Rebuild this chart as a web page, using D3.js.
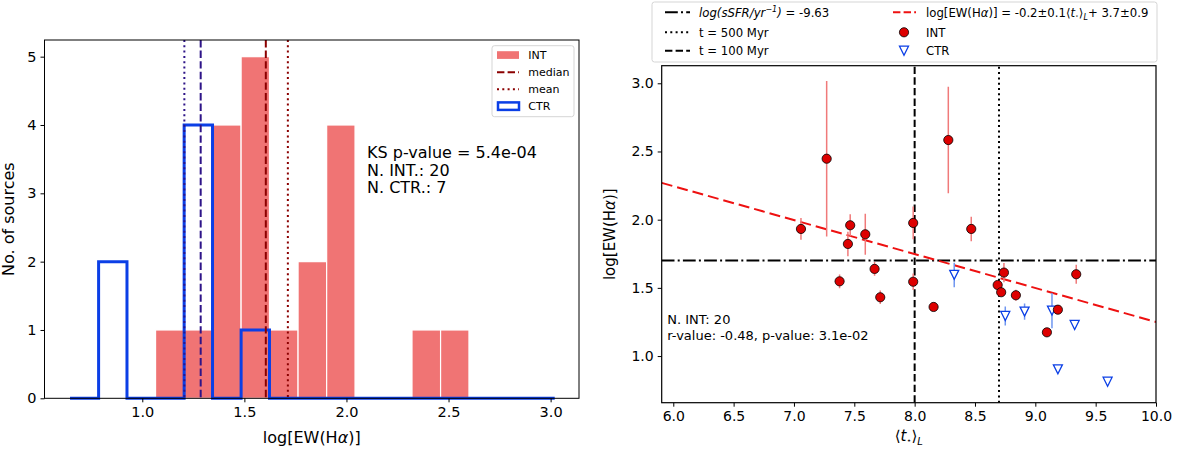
<!DOCTYPE html>
<html><head><meta charset="utf-8">
<script src="https://cdn.jsdelivr.net/npm/d3@7"></script>
<style>body{margin:0;background:#fff}svg{display:block;font-family:"DejaVu Sans",sans-serif}</style>
</head><body>
<svg id="c" width="1200" height="451"></svg>
<script>
// ---------- DATA ----------
// Left panel: histogram of log[EW(Halpha)]
const binEdges = [0.646,0.786,0.925,1.065,1.205,1.344,1.484,1.623,1.763,1.903,2.042,2.182,2.321,2.461,2.600,2.740,2.880,3.020];
const intCounts = [0,0,0,1,1,4,5,1,2,4,0,0,1,1,0,0,0];
const ctrCounts = [0,2,0,0,4,0,1,0,0,0,0,0,0,0,0,0,0];
const intMedian = 1.605, intMean = 1.713, ctrMedian = 1.286, ctrMean = 1.206;
const histXTicks = [1.0,1.5,2.0,2.5,3.0];
const histYTicks = [0,1,2,3,4,5];

// Right panel: scatter
const intAge = [7.058,7.271,7.378,7.447,7.466,7.591,7.668,7.715,7.988,7.988,8.157,8.279,8.469,8.688,8.717,8.740,8.839,9.096,9.187,9.339];
const intEW  = [1.932,2.447,1.548,1.822,1.959,1.893,1.639,1.431,1.976,1.545,1.360,2.584,1.932,1.521,1.468,1.612,1.446,1.174,1.340,1.600];
const intErr = [0.08,0.57,0.05,0.09,0.08,0.15,0.05,0.05,0.12,0.06,0.03,0.39,0.09,0.03,0.03,0.07,0.04,0.03,0.03,0.07];
const ctrAge = [8.328,8.751,8.911,9.138,9.326,9.187,9.599];
const ctrEW  = [1.595,1.294,1.326,1.333,1.228,0.903,0.812];
const ctrErr = [0.09,0.07,0.06,0.13,0.02,0.02,0.02];
const fitSlope = -0.249, fitIntercept = 3.74;
const sSFRLevel = 1.70;
const age100 = 8.0, age500 = 8.699;
const scatXTicks = [6.0,6.5,7.0,7.5,8.0,8.5,9.0,9.5,10.0];
const scatYTicks = [1.0,1.5,2.0,2.5,3.0];

// ---------- DRAW ----------
const svg = d3.select("#c");
const FONT = "DejaVu Sans";
const RED_FILL = "#f07474", BLUE = "#0b3fe6", DARKRED = "#8b0000", INDIGO = "#2e1488";

// Left panel scales
const xL = d3.scaleLinear().domain([0.521, 3.139]).range([44.5, 579]);
const yL = d3.scaleLinear().domain([0, 5.244]).range([398.3, 40]);
const gL = svg.append("g");

// red bars
const bins = intCounts.map((c,i)=>({x0:binEdges[i], x1:binEdges[i+1], c}));
gL.selectAll("rect.int").data(bins.filter(d=>d.c>0)).join("rect")
  .attr("x", d=>xL(d.x0)).attr("width", d=>xL(d.x1)-xL(d.x0))
  .attr("y", d=>yL(d.c)).attr("height", d=>yL(0)-yL(d.c))
  .attr("fill", RED_FILL).attr("stroke","#fff").attr("stroke-width",1.2);

// CTR step outline
const stepPts = [[binEdges[0],0]];
ctrCounts.forEach((c,i)=>{ stepPts.push([binEdges[i],c]); stepPts.push([binEdges[i+1],c]); });
stepPts.push([binEdges[binEdges.length-1],0]);
gL.append("path").attr("d", d3.line().x(d=>xL(d[0])).y(d=>yL(d[1]))(stepPts))
  .attr("fill","none").attr("stroke",BLUE).attr("stroke-width",3).attr("stroke-linejoin","miter");

// vertical lines
const vl = [
  {x:ctrMean, c:INDIGO, dash:"2,3.3"},
  {x:ctrMedian, c:INDIGO, dash:"7.4,3.2"},
  {x:intMedian, c:DARKRED, dash:"7.4,3.2"},
  {x:intMean, c:DARKRED, dash:"2,3.3"}
];
gL.selectAll("line.v").data(vl).join("line")
  .attr("x1",d=>xL(d.x)).attr("x2",d=>xL(d.x)).attr("y1",yL.range()[1]).attr("y2",yL.range()[0])
  .attr("stroke",d=>d.c).attr("stroke-width",2).attr("stroke-dasharray",d=>d.dash);

// axes left
const axLB = gL.append("g").attr("transform",`translate(0,${yL(0)})`)
  .call(d3.axisBottom(xL).tickValues(histXTicks).tickFormat(d3.format(".1f")).tickSizeOuter(0).tickSize(4).tickPadding(4));
const axLL = gL.append("g").attr("transform",`translate(${xL.range()[0]},0)`)
  .call(d3.axisLeft(yL).tickValues(histYTicks).tickFormat(d3.format("d")).tickSizeOuter(0).tickSize(4).tickPadding(4));
[axLB,axLL].forEach(a=>{a.select(".domain").remove(); a.selectAll("text").attr("font-family",FONT).attr("font-size",14.5).attr("fill","#000"); a.selectAll("line").attr("stroke","#000");});
gL.append("rect").attr("x",xL.range()[0]).attr("y",yL.range()[1]).attr("width",xL.range()[1]-xL.range()[0]).attr("height",yL.range()[0]-yL.range()[1])
  .attr("fill","none").attr("stroke","#000").attr("stroke-width",1);

// left labels
gL.append("text").attr("x",(xL.range()[0]+xL.range()[1])/2).attr("y",443).attr("text-anchor","middle")
  .attr("font-size",16).attr("font-family",FONT)
  .call(t=>{t.append("tspan").text("log[EW(H"); t.append("tspan").attr("font-style","italic").text("α"); t.append("tspan").text(")]");});
gL.append("text").attr("transform",`translate(14,${(yL.range()[0]+yL.range()[1])/2}) rotate(-90)`).attr("text-anchor","middle")
  .attr("font-size",16).attr("font-family",FONT).text("No. of sources");

// KS annotation
const ksLines = ["KS p-value = 5.4e-04","N. INT.: 20","N. CTR.: 7"];
gL.selectAll("text.ks").data(ksLines).join("text").attr("x",367).attr("y",(d,i)=>158.3+i*17.2)
  .attr("font-size",16).attr("font-family",FONT).text(d=>d);

// left legend
const lg = gL.append("g");
lg.append("rect").attr("x",492).attr("y",45.7).attr("width",82).attr("height",71).attr("rx",2.5)
  .attr("fill","#fff").attr("fill-opacity",0.8).attr("stroke","#d5d5d5");
const lrows = [55,72.3,89.3,106];
lg.append("rect").attr("x",497).attr("y",lrows[0]-3.8).attr("width",22).attr("height",7.7).attr("fill",RED_FILL);
lg.append("line").attr("x1",497).attr("x2",519).attr("y1",lrows[1]).attr("y2",lrows[1]).attr("stroke",DARKRED).attr("stroke-width",2).attr("stroke-dasharray","7.4,3.2");
lg.append("line").attr("x1",497).attr("x2",519).attr("y1",lrows[2]).attr("y2",lrows[2]).attr("stroke",DARKRED).attr("stroke-width",2).attr("stroke-dasharray","2,3.3");
lg.append("rect").attr("x",498).attr("y",lrows[3]-3.6).attr("width",21).attr("height",7.5).attr("fill","none").attr("stroke",BLUE).attr("stroke-width",2.5);
["INT","median","mean","CTR"].forEach((s,i)=>lg.append("text").attr("x",528.3).attr("y",lrows[i]+4).attr("font-size",11).attr("font-family",FONT).text(s));

// ---------- Right panel ----------
const xR = d3.scaleLinear().domain([5.904, 10.0]).range([661.7, 1156]);
const yR = d3.scaleLinear().domain([0.658, 3.129]).range([402.7, 65.7]);
const gR = svg.append("g");
const clipId = "clipR";
svg.append("clipPath").attr("id",clipId).append("rect").attr("x",xR.range()[0]).attr("y",yR.range()[1]).attr("width",xR.range()[1]-xR.range()[0]).attr("height",yR.range()[0]-yR.range()[1]);
const plot = gR.append("g").attr("clip-path",`url(#${clipId})`);

// reference lines
plot.append("line").attr("x1",xR.range()[0]).attr("x2",xR.range()[1]).attr("y1",yR(sSFRLevel)).attr("y2",yR(sSFRLevel))
  .attr("stroke","#000").attr("stroke-width",2).attr("stroke-dasharray","12.8,3.2,2,3.2");
plot.append("line").attr("x1",xR(age100)).attr("x2",xR(age100)).attr("y1",yR.range()[0]).attr("y2",yR.range()[1])
  .attr("stroke","#000").attr("stroke-width",2).attr("stroke-dasharray","7.4,3.2");
plot.append("line").attr("x1",xR(age500)).attr("x2",xR(age500)).attr("y1",yR.range()[0]).attr("y2",yR.range()[1])
  .attr("stroke","#000").attr("stroke-width",2).attr("stroke-dasharray","2,3.3");
// fit line
const fx = xR.domain();
plot.append("line").attr("x1",xR(fx[0])).attr("x2",xR(fx[1])).attr("y1",yR(fitSlope*fx[0]+fitIntercept)).attr("y2",yR(fitSlope*fx[1]+fitIntercept))
  .attr("stroke","#ee1111").attr("stroke-width",2).attr("stroke-dasharray","11,5");

const intPts = intAge.map((a,i)=>({x:a,y:intEW[i],e:intErr[i]}));
const ctrPts = ctrAge.map((a,i)=>({x:a,y:ctrEW[i],e:ctrErr[i]}));
// error bars
plot.selectAll("line.ie").data(intPts).join("line").attr("x1",d=>xR(d.x)).attr("x2",d=>xR(d.x))
  .attr("y1",d=>yR(d.y-d.e)).attr("y2",d=>yR(d.y+d.e)).attr("stroke","#f07a7a").attr("stroke-width",1.5);
plot.selectAll("line.ce").data(ctrPts).join("line").attr("x1",d=>xR(d.x)).attr("x2",d=>xR(d.x))
  .attr("y1",d=>yR(d.y-d.e)).attr("y2",d=>yR(d.y+d.e)).attr("stroke","#7097f0").attr("stroke-width",1.5);
// markers
const tri = "M-4.5,-4.5L4.5,-4.5L0,4.5Z";
plot.selectAll("path.ct").data(ctrPts).join("path").attr("d",tri).attr("transform",d=>`translate(${xR(d.x)},${yR(d.y)})`)
  .attr("fill","#fff").attr("stroke",BLUE).attr("stroke-width",1.3);
plot.selectAll("circle.it").data(intPts).join("circle").attr("cx",d=>xR(d.x)).attr("cy",d=>yR(d.y)).attr("r",4.6)
  .attr("fill","#dd0000").attr("stroke","#000").attr("stroke-width",0.8);

// axes right
const axRB = gR.append("g").attr("transform",`translate(0,${yR.range()[0]})`)
  .call(d3.axisBottom(xR).tickValues(scatXTicks).tickFormat(d3.format(".1f")).tickSizeOuter(0).tickSize(4).tickPadding(4));
const axRL = gR.append("g").attr("transform",`translate(${xR.range()[0]},0)`)
  .call(d3.axisLeft(yR).tickValues(scatYTicks).tickFormat(d3.format(".1f")).tickSizeOuter(0).tickSize(4).tickPadding(4));
[axRB,axRL].forEach(a=>{a.select(".domain").remove(); a.selectAll("text").attr("font-family",FONT).attr("font-size",14).attr("fill","#000"); a.selectAll("line").attr("stroke","#000");});
gR.append("rect").attr("x",xR.range()[0]).attr("y",yR.range()[1]).attr("width",xR.range()[1]-xR.range()[0]).attr("height",yR.range()[0]-yR.range()[1])
  .attr("fill","none").attr("stroke","#000").attr("stroke-width",1.2);

// right labels
gR.append("text").attr("x",(xR.range()[0]+xR.range()[1])/2).attr("y",441).attr("text-anchor","middle")
  .attr("font-size",15).attr("font-family",FONT)
  .call(t=>{t.append("tspan").text("⟨"); t.append("tspan").attr("font-style","italic").text("t");
    t.append("tspan").attr("font-size",8).attr("dy",2).text("⋆"); t.append("tspan").attr("dy",-2).text("⟩");
    t.append("tspan").attr("font-style","italic").attr("font-size",10).attr("dy",4).text("L");});
gR.append("text").attr("transform",`translate(615,${(yR.range()[0]+yR.range()[1])/2}) rotate(-90)`).attr("text-anchor","middle")
  .attr("font-size",15).attr("font-family",FONT)
  .call(t=>{t.append("tspan").text("log[EW(H"); t.append("tspan").attr("font-style","italic").text("α"); t.append("tspan").text(")]");});

// annotation
["N. INT: 20","r-value: -0.48, p-value: 3.1e-02"].forEach((s,i)=>gR.append("text").attr("x",667.3).attr("y",324.3+i*16)
  .attr("font-size",13).attr("font-family",FONT).text(s));

// right legend
const rg = gR.append("g");
rg.append("rect").attr("x",652).attr("y",2).attr("width",505).attr("height",60).attr("rx",2.5)
  .attr("fill","#fff").attr("fill-opacity",0.8).attr("stroke","#d5d5d5");
const rr = [12.3,32.3,50.7];
const fs = 11.7;
rg.append("line").attr("x1",665).attr("x2",690).attr("y1",rr[0]).attr("y2",rr[0]).attr("stroke","#000").attr("stroke-width",2).attr("stroke-dasharray","12.8,3.2,2,3.2");
rg.append("line").attr("x1",665).attr("x2",690).attr("y1",rr[1]).attr("y2",rr[1]).attr("stroke","#000").attr("stroke-width",2).attr("stroke-dasharray","2,3.3");
rg.append("line").attr("x1",665).attr("x2",690).attr("y1",rr[2]).attr("y2",rr[2]).attr("stroke","#000").attr("stroke-width",2).attr("stroke-dasharray","7.4,3.2");
rg.append("text").attr("x",699).attr("y",rr[0]+4.2).attr("font-size",fs).attr("font-family",FONT)
  .call(t=>{t.append("tspan").attr("font-style","italic").text("log(sSFR/yr");
    t.append("tspan").attr("font-style","italic").attr("font-size",8).attr("dy",-5).text("−1");
    t.append("tspan").attr("font-style","italic").attr("dy",5).text(")");
    t.append("tspan").text(" = -9.63");});
rg.append("text").attr("x",699).attr("y",rr[1]+4.2).attr("font-size",fs).attr("font-family",FONT).text("t = 500 Myr");
rg.append("text").attr("x",699).attr("y",rr[2]+4.2).attr("font-size",fs).attr("font-family",FONT).text("t = 100 Myr");
rg.append("line").attr("x1",893).attr("x2",916).attr("y1",rr[0]).attr("y2",rr[0]).attr("stroke","#ee1111").attr("stroke-width",2).attr("stroke-dasharray","7.4,3.2");
rg.append("circle").attr("cx",904).attr("cy",rr[1]).attr("r",4.6).attr("fill","#dd0000").attr("stroke","#000").attr("stroke-width",0.8);
rg.append("path").attr("d",tri).attr("transform",`translate(904,${rr[2]})`).attr("fill","#fff").attr("stroke",BLUE).attr("stroke-width",1.3);
rg.append("text").attr("x",926).attr("y",rr[0]+4.2).attr("font-size",fs).attr("font-family",FONT)
  .call(t=>{t.append("tspan").text("log[EW(H"); t.append("tspan").attr("font-style","italic").text("α");
    t.append("tspan").text(")] = -0.2±0.1⟨"); t.append("tspan").attr("font-style","italic").text("t");
    t.append("tspan").attr("font-size",6).attr("dy",1.5).text("⋆"); t.append("tspan").attr("dy",-1.5).text("⟩");
    t.append("tspan").attr("font-style","italic").attr("font-size",8).attr("dy",3).text("L");
    t.append("tspan").attr("dy",-3).text("+ 3.7±0.9");});
rg.append("text").attr("x",926).attr("y",rr[1]+4.2).attr("font-size",fs).attr("font-family",FONT).text("INT");
rg.append("text").attr("x",926).attr("y",rr[2]+4.2).attr("font-size",fs).attr("font-family",FONT).text("CTR");
</script>
</body></html>
